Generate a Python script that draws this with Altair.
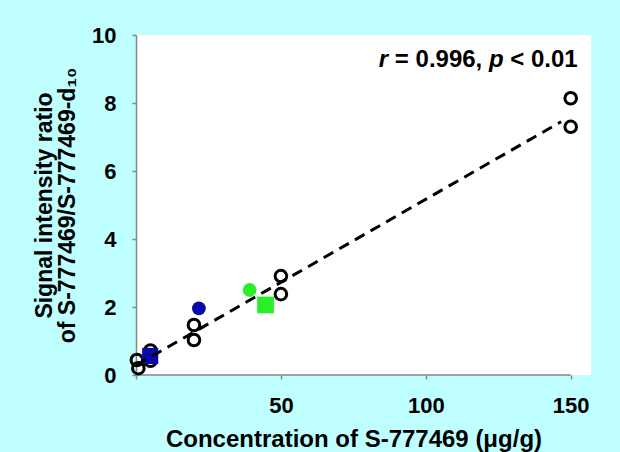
import altair as alt
import pandas as pd

# Calibration standards (open circles)
cal_x = [0.3, 0.8, 5, 5, 20, 20, 50, 50, 150, 150]
cal_y = [0.44, 0.20, 0.72, 0.42, 1.47, 1.03, 2.91, 2.38, 8.14, 7.30]

# Samples
blue_circle_x = [21.7]
blue_circle_y = [1.96]
blue_square_x = [4.9]
blue_square_y = [0.56]
green_circle_x = [39.2]
green_circle_y = [2.50]
green_square_x = [44.7]
green_square_y = [2.06]

# Fitted regression line (end points)
fit_x = [0.1, 146.7]
fit_y = [0.29, 7.45]

# Axes
x_ticks = [0, 50, 100, 150]
y_ticks = [0, 2, 4, 6, 8, 10]
x_axis_line_x = [0]
x_axis_line_x2 = [150]
x_axis_line_y = [0]

# Annotation anchor
annot_x = [152.4]
annot_y = [9.05]

FONT = "Liberation Sans"
GRAY = "#868686"
BLUE = "#0A0AA8"
GREEN = "#2BEE2B"

xs = alt.Scale(domain=[0, 157], nice=False)
ys = alt.Scale(domain=[0, 10], nice=False)

xaxis = alt.Axis(
    values=x_ticks,
    labelExpr="datum.value == 0 ? '' : datum.label",
    domain=False, grid=False,
    tickSize=4, tickColor=GRAY, tickWidth=1.5,
    labelFont=FONT, labelFontSize=22, labelFontWeight="bold", labelColor="black",
    labelBaseline="alphabetic", labelPadding=33, labelFlush=False, labelOverlap=False,
    title="Concentration of S-777469 (μg/g)",
    titleFont=FONT, titleFontSize=24, titleFontWeight="bold", titleColor="black",
    titleX=217.5, titleY=71, titleBaseline="alphabetic", titleAlign="center",
)
yaxis = alt.Axis(
    values=y_ticks,
    domain=True, domainColor=GRAY, domainWidth=1.5, grid=False,
    tickSize=4, tickColor=GRAY, tickWidth=1.5,
    labelFont=FONT, labelFontSize=22, labelFontWeight="bold", labelColor="black",
    labelPadding=16, labelFlush=False, labelOverlap=False,
    title=["Signal intensity ratio", "of S-777469/S-777469-d₁₀"],
    titleFont=FONT, titleFontSize=23, titleFontWeight="bold", titleColor="black",
    titleX=-85, titleY=170, titleAngle=270, titleBaseline="alphabetic",
    titleAlign="center", titleLineHeight=23,
)

X = alt.X("x:Q", scale=xs, axis=xaxis)
Y = alt.Y("y:Q", scale=ys, axis=yaxis)

cal_df = pd.DataFrame({"x": cal_x, "y": cal_y})
fit_df = pd.DataFrame({"x": fit_x, "y": fit_y})
bc_df = pd.DataFrame({"x": blue_circle_x, "y": blue_circle_y})
bs_df = pd.DataFrame({"x": blue_square_x, "y": blue_square_y})
gc_df = pd.DataFrame({"x": green_circle_x, "y": green_circle_y})
gs_df = pd.DataFrame({"x": green_square_x, "y": green_square_y})
axl_df = pd.DataFrame({"x": x_axis_line_x, "x2": x_axis_line_x2, "y": x_axis_line_y})
ann_df = pd.DataFrame({"x": annot_x, "y": annot_y})

axis_rule = alt.Chart(axl_df).mark_rule(color=GRAY, strokeWidth=1.5).encode(
    x=X, x2="x2:Q", y=Y
)

open_pts = alt.Chart(cal_df).mark_point(
    shape="circle", filled=False, size=135, strokeWidth=3, color="black", opacity=1
).encode(x=X, y=Y)

blue_c = alt.Chart(bc_df).mark_point(
    shape="circle", filled=True, size=190, color=BLUE, opacity=1
).encode(x=X, y=Y)
blue_s = alt.Chart(bs_df).mark_point(
    shape="square", filled=True, size=260, color=BLUE, opacity=1
).encode(x=X, y=Y)
green_c = alt.Chart(gc_df).mark_point(
    shape="circle", filled=True, size=190, color=GREEN, opacity=1
).encode(x=X, y=Y)
green_s = alt.Chart(gs_df).mark_point(
    shape="square", filled=True, size=280, color=GREEN, opacity=1
).encode(x=X, y=Y)

fit_line = alt.Chart(fit_df).mark_line(
    color="black", strokeWidth=3, strokeDash=[11, 7]
).encode(x=X, y=Y)

AFS = 24


def piece(txt, dx, italic=False):
    return alt.Chart(ann_df).mark_text(
        text=txt, align="right", baseline="alphabetic", dx=dx,
        font=FONT, fontSize=AFS, fontWeight="bold",
        fontStyle="italic" if italic else "normal", color="black",
    ).encode(x=X, y=Y)


sp = 0.278 * AFS
w4 = 2.808 * AFS
wp = 0.611 * AFS
w2 = 3.642 * AFS
ann = (
    piece("< 0.01", 0)
    + piece("p", -(w4 + sp), True)
    + piece("= 0.996,", -(w4 + sp + wp + sp))
    + piece("r", -(w4 + sp + wp + sp + w2 + sp), True)
)

chart = (
    alt.layer(axis_rule, open_pts, blue_c, blue_s, green_c, green_s, fit_line, ann)
    .properties(
        width=455, height=340,
        padding={"left": 136, "top": 35, "right": 29, "bottom": 77},
        autosize=alt.AutoSizeParams(type="none"),
        background="#BFFFFF",
    )
    .configure_view(fill="white", stroke=None)
)

chart.save("out.html", embed_options={"renderer": "svg", "actions": False})
